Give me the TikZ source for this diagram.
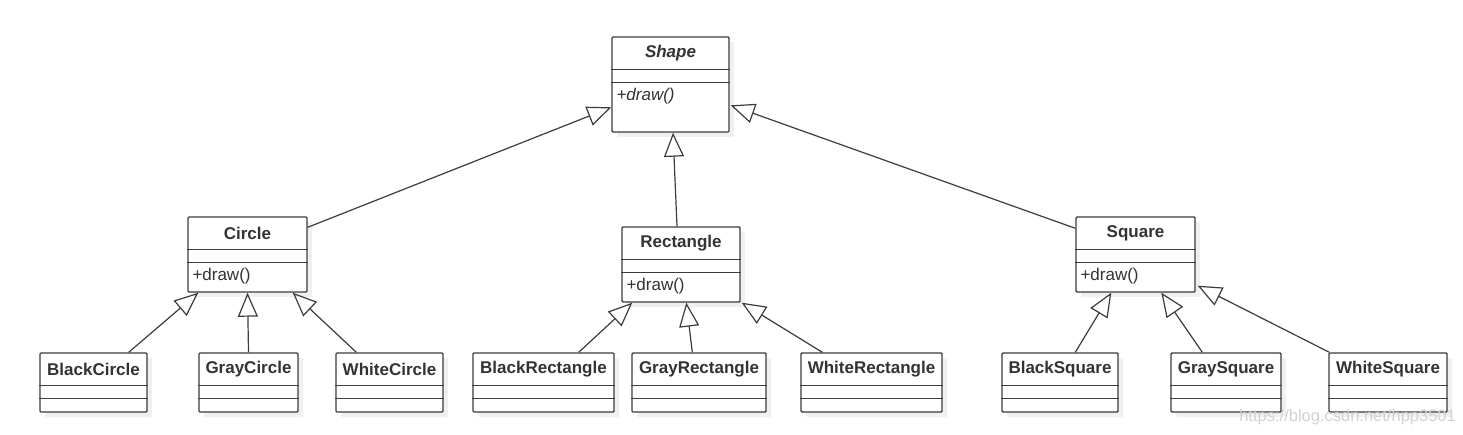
\documentclass[tikz,border=0pt]{standalone}
\usepackage{fontspec}
\setmainfont{Liberation Sans}
\usetikzlibrary{arrows.meta,calc,fit,shadows}
\definecolor{linec}{HTML}{3C3C3C}
\definecolor{textc}{HTML}{333333}
\definecolor{wmark}{HTML}{D2D2D2}
\tikzset{
  clsbox/.style={draw=linec, line width=1.4pt, fill=white, inner sep=0pt, rounded corners=1pt,
    drop shadow={shadow xshift=5pt, shadow yshift=-5pt, fill=black, opacity=0.06}},
  clstitle/.style={font=\fontsize{17}{19}\selectfont\bfseries, text=textc, inner sep=0pt},
  clsmeth/.style={font=\fontsize{17}{19}\selectfont, text=textc, inner sep=0pt, anchor=west},
  sepline/.style={draw=linec, line width=1.4pt},
  inherit/.style={draw=linec, line width=1.2pt, -{Triangle[open, length=24pt, width=20pt]}},
  wmarkstyle/.style={font=\fontsize{16.5}{19}\selectfont, text=wmark, inner sep=0pt, anchor=east},
}
\newcommand\umlclass[7]{%
  \coordinate (#1-a) at (#2,#3);
  \coordinate (#1-b) at (#4,#5);
  \node[clsbox, fit=(#1-a)(#1-b)] (#1) {};
  \draw[sepline] ($(#1.north west)+(0,33)$) -- ($(#1.north east)+(0,33)$);
  \draw[sepline] ($(#1.north west)+(0,46)$) -- ($(#1.north east)+(0,46)$);
  \node[clstitle] (#1-t) at ($(#1.north)+(0,17)$) {#6};
  \if\relax\detokenize{#7}\relax\else
    \node[clsmeth] (#1-m) at ($(#1.north west)+(5,60)$) {#7};
  \fi
}
\begin{document}
\begin{tikzpicture}[x=1pt,y=-1pt]
\useasboundingbox (0,0) rectangle (1463,435);
\fill[white] (0,0) rectangle (1463,435);

% classes
\umlclass{shape}{612}{37}{729}{132}{\itshape Shape}{\itshape +draw()}
\umlclass{circle}{188}{217}{307}{292}{Circle}{+draw()}
\umlclass{rect}{622}{227}{740}{302}{Rectangle}{+draw()}
\umlclass{square}{1076}{217}{1195}{292}{Square}{+draw()}

\umlclass{bc}{40}{353}{147}{412}{BlackCircle}{}
\umlclass{gc}{199}{353}{298}{412}{GrayCircle}{}
\umlclass{wc}{336}{353}{443}{412}{WhiteCircle}{}
\umlclass{br}{473}{353}{614}{412}{BlackRectangle}{}
\umlclass{gr}{632}{353}{766}{412}{GrayRectangle}{}
\umlclass{wr}{801}{353}{942}{412}{WhiteRectangle}{}
\umlclass{bs}{1002}{353}{1118}{412}{BlackSquare}{}
\umlclass{gs}{1171}{353}{1281}{412}{GraySquare}{}
\umlclass{ws}{1329}{353}{1447}{412}{WhiteSquare}{}

% inheritance
\draw[inherit] ($(circle.north east)+(0,11)$) -- ($(shape.north west)+(0,71)$);
\draw[inherit] ($(rect.north)+(-4,0)$) -- ($(shape.south)+(2.5,0)$);
\draw[inherit] ($(square.north west)+(0,12)$) -- ($(shape.north east)+(1,69)$);

\draw[inherit] ($(bc.north east)+(-19,0)$) -- ($(circle.south west)+(11,0)$);
\draw[inherit] (gc.north) -- (circle.south);
\draw[inherit] ($(wc.north west)+(21,0)$) -- ($(circle.south east)+(-15,0)$);

\draw[inherit] ($(br.north east)+(-36,0)$) -- ($(rect.south west)+(11,0)$);
\draw[inherit] ($(gr.north west)+(61,0)$) -- ($(rect.south west)+(65,0)$);
\draw[inherit] ($(wr.north west)+(22,0)$) -- ($(rect.south east)+(1,0)$);

\draw[inherit] ($(bs.north west)+(74,0)$) -- ($(square.south west)+(36,0)$);
\draw[inherit] ($(gs.north west)+(32,0)$) -- ($(square.south west)+(86,0)$);
\draw[inherit] ($(ws.north west)+(1,0)$) -- ($(square.south east)+(2,-7)$);

% watermark
\node[wmarkstyle] (wm) at (1456,417) {https://blog.csdn.net/hpp3501};
\end{tikzpicture}
\end{document}
